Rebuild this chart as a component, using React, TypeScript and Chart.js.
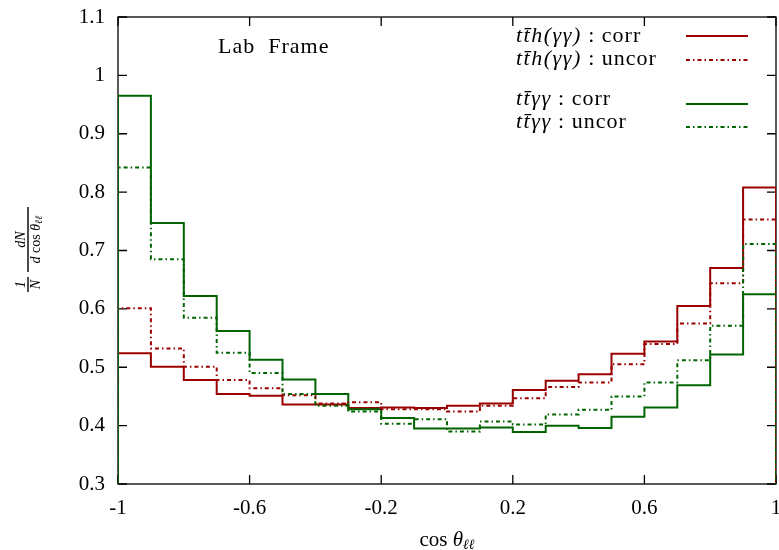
import React, { useEffect, useRef } from "react";
import { Chart, registerables } from "chart.js";
Chart.register(...registerables);

const binEdges = [-1, -0.9, -0.8, -0.7, -0.6, -0.5, -0.4, -0.3, -0.2, -0.1, 0, 0.1, 0.2, 0.3, 0.4, 0.5, 0.6, 0.7, 0.8, 0.9, 1];
const tthCorr = [0.524, 0.501, 0.478, 0.454, 0.451, 0.436, 0.436, 0.430, 0.431, 0.430, 0.434, 0.438, 0.461, 0.477, 0.488, 0.523, 0.544, 0.605, 0.670, 0.808];
const tthUncor = [0.601, 0.532, 0.501, 0.478, 0.464, 0.452, 0.438, 0.440, 0.428, 0.428, 0.424, 0.434, 0.447, 0.466, 0.474, 0.505, 0.540, 0.575, 0.644, 0.753];
const ttaaCorr = [0.965, 0.747, 0.622, 0.562, 0.513, 0.479, 0.454, 0.428, 0.413, 0.395, 0.395, 0.397, 0.389, 0.400, 0.396, 0.415, 0.431, 0.469, 0.522, 0.625];
const ttaaUncor = [0.842, 0.685, 0.585, 0.525, 0.490, 0.454, 0.434, 0.424, 0.403, 0.411, 0.390, 0.407, 0.402, 0.419, 0.427, 0.450, 0.474, 0.512, 0.571, 0.711];
const xTicks = [-1, -0.6, -0.2, 0.2, 0.6, 1];
const xTickLabels = ["-1", "-0.6", "-0.2", "0.2", "0.6", "1"];
const yTicks = [0.3, 0.4, 0.5, 0.6, 0.7, 0.8, 0.9, 1, 1.1];
const yTickLabels = ["0.3", "0.4", "0.5", "0.6", "0.7", "0.8", "0.9", "1", "1.1"];
const yMin = 0.3;

const RED = "#9a0000";
const GREEN = "#006400";
const DASHDOT = [4, 3, 1.5, 3];
const SERIF = "'Liberation Serif', 'DejaVu Serif', serif";

function histPoints(vals: number[]) {
  const pts: { x: number; y: number }[] = [{ x: binEdges[0], y: yMin }];
  vals.forEach((v, i) => {
    pts.push({ x: binEdges[i], y: v });
    pts.push({ x: binEdges[i + 1], y: v });
  });
  pts.push({ x: binEdges[binEdges.length - 1], y: yMin });
  return pts;
}

const legendItems = [
  { math: "tt\u0304h(\u03B3\u03B3)", word: " : corr", color: RED, dash: [] as number[], ty: 42, ly: 36 },
  { math: "tt\u0304h(\u03B3\u03B3)", word: " : uncor", color: RED, dash: DASHDOT, ty: 65, ly: 60 },
  { math: "tt\u0304\u03B3\u03B3", word: " : corr", color: GREEN, dash: [] as number[], ty: 105, ly: 104 },
  { math: "tt\u0304\u03B3\u03B3", word: " : uncor", color: GREEN, dash: DASHDOT, ty: 128, ly: 127 },
];

const decorPlugin = {
  id: "decor",
  beforeDatasetsDraw(chart: any) {
    const { ctx, chartArea: a, scales } = chart;
    ctx.save();
    ctx.strokeStyle = "#000";
    ctx.lineWidth = 1.3;
    ctx.strokeRect(a.left, a.top, a.right - a.left, a.bottom - a.top);
    const tl = 9;
    ctx.beginPath();
    xTicks.forEach((t) => {
      const x = scales.x.getPixelForValue(t);
      ctx.moveTo(x, a.bottom);
      ctx.lineTo(x, a.bottom - tl);
      ctx.moveTo(x, a.top);
      ctx.lineTo(x, a.top + tl);
    });
    yTicks.forEach((t) => {
      const y = scales.y.getPixelForValue(t);
      ctx.moveTo(a.left, y);
      ctx.lineTo(a.left + tl, y);
      ctx.moveTo(a.right, y);
      ctx.lineTo(a.right - tl, y);
    });
    ctx.stroke();
    ctx.restore();
  },
  afterDatasetsDraw(chart: any) {
    const { ctx } = chart;
    ctx.save();
    ctx.fillStyle = "#000";
    ctx.textBaseline = "alphabetic";
    ctx.textAlign = "left";
    // Lab Frame
    ctx.letterSpacing = "1px";
    ctx.font = `22px ${SERIF}`;
    ctx.fillText("Lab  Frame", 218, 53);
    // legend
    legendItems.forEach((it) => {
      ctx.letterSpacing = "1.5px";
      ctx.font = `italic 22px ${SERIF}`;
      ctx.fillStyle = "#000";
      ctx.textAlign = "left";
      ctx.fillText(it.math, 516, it.ty);
      const w = ctx.measureText(it.math).width;
      ctx.letterSpacing = "1px";
      ctx.font = `22px ${SERIF}`;
      ctx.fillText(it.word, 516 + w, it.ty);
      ctx.beginPath();
      ctx.strokeStyle = it.color;
      ctx.lineWidth = 2;
      ctx.setLineDash(it.dash);
      ctx.moveTo(686, it.ly);
      ctx.lineTo(748, it.ly);
      ctx.stroke();
      ctx.setLineDash([]);
    });
    ctx.letterSpacing = "0px";
    // x title
    ctx.fillStyle = "#000";
    const p1 = "cos ";
    ctx.font = `21px ${SERIF}`;
    const w1 = ctx.measureText(p1).width;
    ctx.font = `italic 21px ${SERIF}`;
    const w2 = ctx.measureText("\u03B8").width;
    ctx.font = `italic 14px ${SERIF}`;
    const w3 = ctx.measureText("\u2113\u2113").width;
    const x0 = 447 - (w1 + w2 + w3) / 2;
    ctx.font = `21px ${SERIF}`;
    ctx.fillText(p1, x0, 546);
    ctx.font = `italic 21px ${SERIF}`;
    ctx.fillText("\u03B8", x0 + w1, 546);
    ctx.font = `italic 14px ${SERIF}`;
    ctx.fillText("\u2113\u2113", x0 + w1 + w2, 549);
    // y title (rotated fraction)
    ctx.save();
    ctx.translate(28, 250);
    ctx.rotate(-Math.PI / 2);
    ctx.textAlign = "center";
    ctx.lineWidth = 1.4;
    ctx.strokeStyle = "#000";
    ctx.font = `italic 14px ${SERIF}`;
    ctx.fillText("1", -34.5, -3);
    ctx.fillText("N", -34.5, 12);
    ctx.beginPath();
    ctx.moveTo(-42, 0);
    ctx.lineTo(-27, 0);
    ctx.stroke();
    ctx.fillText("dN", 10.5, -3);
    ctx.font = `italic 14px ${SERIF}`;
    const a1 = ctx.measureText("d ").width;
    ctx.font = `14px ${SERIF}`;
    const a2 = ctx.measureText("cos ").width;
    ctx.font = `italic 14px ${SERIF}`;
    const a3 = ctx.measureText("\u03B8").width;
    ctx.font = `italic 10px ${SERIF}`;
    const a4 = ctx.measureText("\u2113\u2113").width;
    const u = 10.5 - (a1 + a2 + a3 + a4) / 2;
    ctx.textAlign = "left";
    ctx.font = `italic 14px ${SERIF}`;
    ctx.fillText("d ", u, 12);
    ctx.font = `14px ${SERIF}`;
    ctx.fillText("cos ", u + a1, 12);
    ctx.font = `italic 14px ${SERIF}`;
    ctx.fillText("\u03B8", u + a1 + a2, 12);
    ctx.font = `italic 10px ${SERIF}`;
    ctx.fillText("\u2113\u2113", u + a1 + a2 + a3, 14);
    ctx.beginPath();
    ctx.moveTo(-22, 0);
    ctx.lineTo(43, 0);
    ctx.stroke();
    ctx.restore();
    ctx.restore();
  },
};

export default function App() {
  const ref = useRef<HTMLCanvasElement | null>(null);
  useEffect(() => {
    document.body.style.margin = "0";
    const canvas = ref.current!;
    const mk = (label: string, vals: number[], color: string, dash: number[]) => ({
      label,
      data: histPoints(vals),
      borderColor: color,
      backgroundColor: color,
      borderWidth: 2,
      borderDash: dash,
      showLine: true,
      pointRadius: 0,
      tension: 0,
      fill: false,
    });
    const zeroPad = (s: any) => {
      s.paddingLeft = 0;
      s.paddingRight = 0;
      s.paddingTop = 0;
      s.paddingBottom = 0;
    };
    const chart = new Chart(canvas, {
      type: "scatter",
      data: {
        datasets: [
          mk("ttaa uncor", ttaaUncor, GREEN, DASHDOT),
          mk("tth uncor", tthUncor, RED, DASHDOT),
          mk("ttaa corr", ttaaCorr, GREEN, []),
          mk("tth corr", tthCorr, RED, []),
        ],
      },
      options: {
        animation: false,
        responsive: false,
        layout: { padding: { top: 17, right: 3, left: 0, bottom: 0 } },
        plugins: { legend: { display: false }, tooltip: { enabled: false } },
        scales: {
          x: {
            type: "linear",
            min: -1,
            max: 1,
            grid: { display: false, drawTicks: false },
            border: { display: false },
            afterBuildTicks: (s: any) => {
              s.ticks = xTicks.map((v) => ({ value: v }));
            },
            afterFit: (s: any) => {
              s.height = 66;
              zeroPad(s);
            },
            ticks: {
              padding: 12,
              color: "#000",
              font: { family: SERIF, size: 21 },
              maxRotation: 0,
              autoSkip: false,
              callback: (v: any) => {
                const i = xTicks.findIndex((t) => Math.abs(t - v) < 1e-6);
                return i >= 0 ? xTickLabels[i] : "";
              },
            },
          },
          y: {
            type: "linear",
            min: 0.3,
            max: 1.1,
            grid: { display: false, drawTicks: false },
            border: { display: false },
            afterBuildTicks: (s: any) => {
              s.ticks = yTicks.map((v) => ({ value: v }));
            },
            afterFit: (s: any) => {
              s.width = 118;
              zeroPad(s);
            },
            ticks: {
              padding: 13,
              color: "#000",
              font: { family: SERIF, size: 21 },
              autoSkip: false,
              callback: (v: any) => {
                const i = yTicks.findIndex((t) => Math.abs(t - v) < 1e-6);
                return i >= 0 ? yTickLabels[i] : "";
              },
            },
          },
        },
      },
      plugins: [decorPlugin],
    } as any);
    return () => chart.destroy();
  }, []);
  return (
    <div style={{ width: 779, height: 550 }}>
      <canvas ref={ref} width={779} height={550} style={{ display: "block" }} />
    </div>
  );
}
